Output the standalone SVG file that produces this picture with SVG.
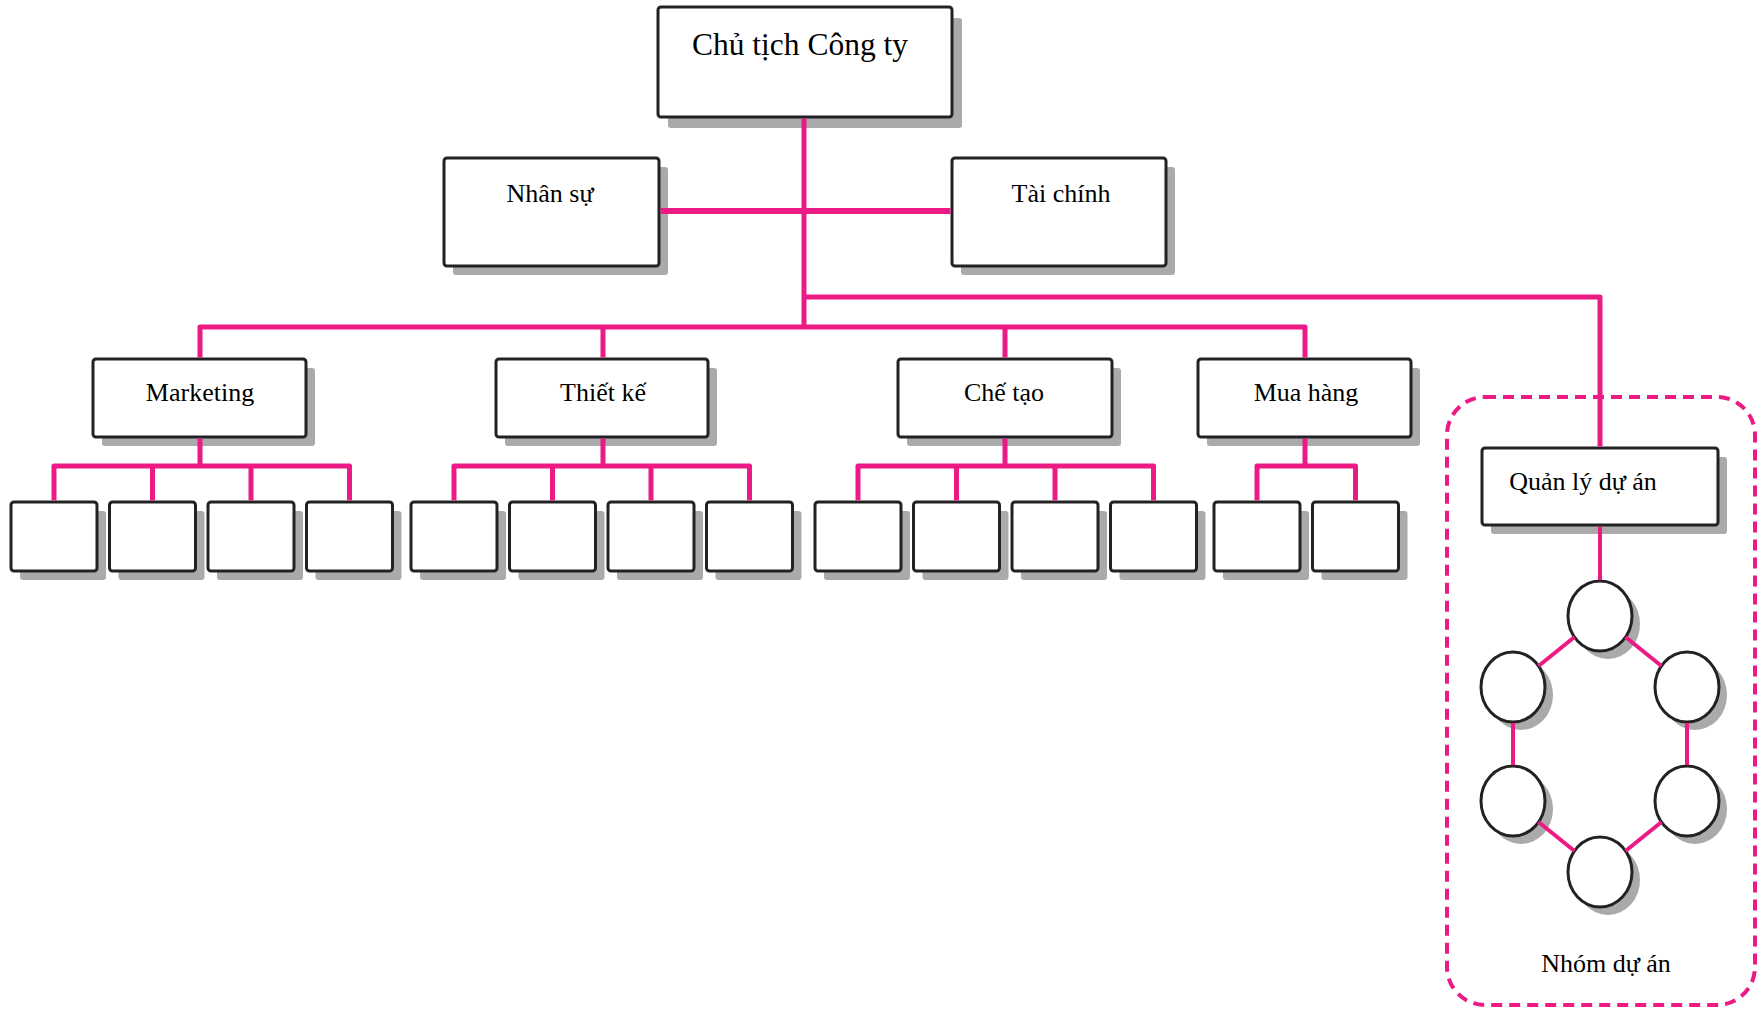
<svg xmlns="http://www.w3.org/2000/svg" width="1763" height="1010" viewBox="0 0 1763 1010">
<style>
.bg{fill:#ffffff}
.sh{fill:#aaaaaa}
.box{fill:#ffffff;stroke:#222222;stroke-width:3}
.conn{fill:none;stroke:#ec1a85;stroke-width:5;stroke-linejoin:round;stroke-linecap:butt}
.thin{stroke-width:4}
.lbl{font-family:"Liberation Serif","Times New Roman",serif;font-size:26px;fill:#000000;text-anchor:middle}
.grp{fill:none;stroke:#ec1a85;stroke-width:4;stroke-dasharray:11 7}
</style>
<rect class="bg" x="0" y="0" width="1763" height="1010"/>

<g id="project-team-frame">
  <rect class="grp" x="1447" y="397" width="308" height="608" rx="38"/>
  <text class="lbl" x="1606" y="972">Nhóm dự án</text>
</g>

<g id="chairman">
  <rect class="sh" x="668" y="18" width="294" height="110" rx="3"/>
  <rect class="box" x="658" y="7" width="294" height="110" rx="3"/>
  <text class="lbl" x="800" y="55" style="font-size:31.5px">Chủ tịch Công ty</text>
</g>
<g id="hr">
  <rect class="sh" x="453" y="167" width="215" height="108" rx="3"/>
  <rect class="box" x="444" y="158" width="215" height="108" rx="3"/>
  <text class="lbl" x="550" y="202">Nhân sự</text>
</g>
<g id="finance">
  <rect class="sh" x="961" y="167" width="214" height="108" rx="3"/>
  <rect class="box" x="952" y="158" width="214" height="108" rx="3"/>
  <text class="lbl" x="1061" y="202">Tài chính</text>
</g>

<g id="marketing">
  <rect class="sh" x="102" y="368" width="213" height="78" rx="3"/>
  <rect class="box" x="93" y="359" width="213" height="78" rx="3"/>
  <text class="lbl" x="200" y="401">Marketing</text>
</g>
<g id="design">
  <rect class="sh" x="505" y="368" width="212" height="78" rx="3"/>
  <rect class="box" x="496" y="359" width="212" height="78" rx="3"/>
  <text class="lbl" x="603" y="401">Thiết kế</text>
</g>
<g id="manufacturing">
  <rect class="sh" x="907" y="368" width="214" height="78" rx="3"/>
  <rect class="box" x="898" y="359" width="214" height="78" rx="3"/>
  <text class="lbl" x="1004" y="401">Chế tạo</text>
</g>
<g id="purchasing">
  <rect class="sh" x="1207" y="368" width="213" height="78" rx="3"/>
  <rect class="box" x="1198" y="359" width="213" height="78" rx="3"/>
  <text class="lbl" x="1306" y="401">Mua hàng</text>
</g>
<g id="project-manager">
  <rect class="sh" x="1491" y="457" width="236" height="77" rx="3"/>
  <rect class="box" x="1482" y="448" width="236" height="77" rx="3"/>
  <text class="lbl" x="1583" y="490">Quản lý dự án</text>
</g>

<g id="mk-1"><rect class="sh" x="20" y="511" width="86" height="69" rx="3"/><rect class="box" x="11" y="502" width="86" height="69" rx="3"/></g>
<g id="mk-2"><rect class="sh" x="118.5" y="511" width="86" height="69" rx="3"/><rect class="box" x="109.5" y="502" width="86" height="69" rx="3"/></g>
<g id="mk-3"><rect class="sh" x="217" y="511" width="86" height="69" rx="3"/><rect class="box" x="208" y="502" width="86" height="69" rx="3"/></g>
<g id="mk-4"><rect class="sh" x="315.5" y="511" width="86" height="69" rx="3"/><rect class="box" x="306.5" y="502" width="86" height="69" rx="3"/></g>

<g id="ds-1"><rect class="sh" x="420" y="511" width="86" height="69" rx="3"/><rect class="box" x="411" y="502" width="86" height="69" rx="3"/></g>
<g id="ds-2"><rect class="sh" x="518.5" y="511" width="86" height="69" rx="3"/><rect class="box" x="509.5" y="502" width="86" height="69" rx="3"/></g>
<g id="ds-3"><rect class="sh" x="617" y="511" width="86" height="69" rx="3"/><rect class="box" x="608" y="502" width="86" height="69" rx="3"/></g>
<g id="ds-4"><rect class="sh" x="715.5" y="511" width="86" height="69" rx="3"/><rect class="box" x="706.5" y="502" width="86" height="69" rx="3"/></g>

<g id="mf-1"><rect class="sh" x="824" y="511" width="86" height="69" rx="3"/><rect class="box" x="815" y="502" width="86" height="69" rx="3"/></g>
<g id="mf-2"><rect class="sh" x="922.5" y="511" width="86" height="69" rx="3"/><rect class="box" x="913.5" y="502" width="86" height="69" rx="3"/></g>
<g id="mf-3"><rect class="sh" x="1021" y="511" width="86" height="69" rx="3"/><rect class="box" x="1012" y="502" width="86" height="69" rx="3"/></g>
<g id="mf-4"><rect class="sh" x="1119.5" y="511" width="86" height="69" rx="3"/><rect class="box" x="1110.5" y="502" width="86" height="69" rx="3"/></g>

<g id="pu-1"><rect class="sh" x="1223" y="511" width="86" height="69" rx="3"/><rect class="box" x="1214" y="502" width="86" height="69" rx="3"/></g>
<g id="pu-2"><rect class="sh" x="1321.5" y="511" width="86" height="69" rx="3"/><rect class="box" x="1312.5" y="502" width="86" height="69" rx="3"/></g>

<g id="tm-top"><ellipse class="sh" cx="1608" cy="624" rx="32" ry="35"/><ellipse class="box" cx="1600" cy="616" rx="32" ry="35"/></g>
<g id="tm-ul"><ellipse class="sh" cx="1521" cy="695" rx="32" ry="35"/><ellipse class="box" cx="1513" cy="687" rx="32" ry="35"/></g>
<g id="tm-ur"><ellipse class="sh" cx="1695" cy="695" rx="32" ry="35"/><ellipse class="box" cx="1687" cy="687" rx="32" ry="35"/></g>
<g id="tm-ll"><ellipse class="sh" cx="1521" cy="809" rx="32" ry="35"/><ellipse class="box" cx="1513" cy="801" rx="32" ry="35"/></g>
<g id="tm-lr"><ellipse class="sh" cx="1695" cy="809" rx="32" ry="35"/><ellipse class="box" cx="1687" cy="801" rx="32" ry="35"/></g>
<g id="tm-bottom"><ellipse class="sh" cx="1608" cy="880" rx="32" ry="35"/><ellipse class="box" cx="1600" cy="872" rx="32" ry="35"/></g>

<g id="connectors">
  <path class="conn" d="M804,118.5 V327"/>
  <path class="conn" d="M660.5,211 H950.5" style="stroke-width:6"/>
  <path class="conn" d="M804,297 H1600 V446.5"/>
  <path class="conn" d="M200,357.5 V327 H1305 V357.5"/>
  <path class="conn" d="M603,327 V357.5"/>
  <path class="conn" d="M1005,327 V357.5"/>

  <path class="conn" d="M200,438.5 V466"/>
  <path class="conn" d="M54,500.5 V466 H349.5 V500.5"/>
  <path class="conn" d="M152.5,466 V500.5"/>
  <path class="conn" d="M251,466 V500.5"/>

  <path class="conn" d="M603,438.5 V466"/>
  <path class="conn" d="M454,500.5 V466 H749.5 V500.5"/>
  <path class="conn" d="M552.5,466 V500.5"/>
  <path class="conn" d="M651,466 V500.5"/>

  <path class="conn" d="M1005,438.5 V466"/>
  <path class="conn" d="M858,500.5 V466 H1153.5 V500.5"/>
  <path class="conn" d="M956.5,466 V500.5"/>
  <path class="conn" d="M1055,466 V500.5"/>

  <path class="conn" d="M1305,438.5 V466"/>
  <path class="conn" d="M1257,500.5 V466 H1355.5 V500.5"/>

  <path class="conn thin" d="M1600,526.5 V580"/>
  <path class="conn thin" d="M1574.5,637 L1538.5,666"/>
  <path class="conn thin" d="M1625.5,637 L1661.5,666"/>
  <path class="conn thin" d="M1513,723 V765"/>
  <path class="conn thin" d="M1687,723 V765"/>
  <path class="conn thin" d="M1538.5,822 L1574.5,851"/>
  <path class="conn thin" d="M1661.5,822 L1625.5,851"/>
</g>
</svg>
